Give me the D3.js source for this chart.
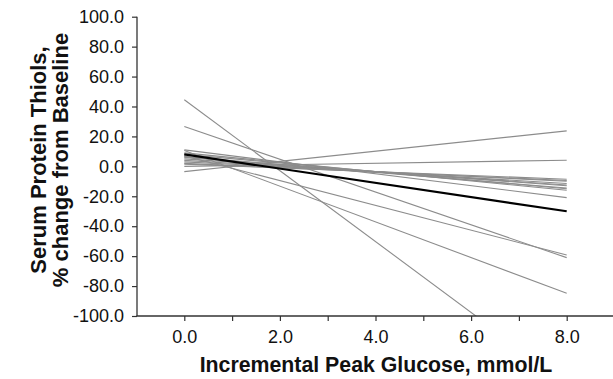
<!DOCTYPE html>
<html>
<head>
<meta charset="utf-8">
<script src="https://cdn.jsdelivr.net/npm/d3@7/dist/d3.min.js"></script>
<style>
  html, body { margin: 0; padding: 0; background: #fff; }
  svg { display: block; font-family: "Liberation Sans", Arial, sans-serif; }
</style>
</head>
<body>
<svg id="chart" width="613" height="379"></svg>
<script>
// ---- data ----
const xStart = 0;
const xEnd = 8;
// individual subjects: % change at x = 0 and at x = 8
const subjectStart = [44.5, 26.6, 10.6, 7.0, -3.5, 0.0, 11.0, 9.0, 8.0, 6.5, 6.0, 5.0, 4.0, 3.0, 2.0, 1.5];
const subjectEnd   = [-145, -61.0, -84.8, -59.2, 23.7, 4.1, -20.9, -16.0, -15.0, -14.5, -13.0, -12.5, -11.5, -10.0, -9.5, -8.6];
// mean regression line
const meanStart = 8.0;
const meanEnd = -30.0;

const yTicks = [100, 80, 60, 40, 20, 0, -20, -40, -60, -80, -100];
const yTickLabels = ["100.0", "80.0", "60.0", "40.0", "20.0", "0.0", "-20.0", "-40.0", "-60.0", "-80.0", "-100.0"];
const xTicks = [0, 1, 2, 3, 4, 5, 6, 7, 8];
const xTickLabels = ["0.0", "", "2.0", "", "4.0", "", "6.0", "", "8.0"];
const xTitle = "Incremental Peak Glucose, mmol/L";
const yTitle1 = "Serum Protein Thiols,";
const yTitle2 = "% change from Baseline";

// ---- layout ----
const svg = d3.select("#chart");
const x = d3.scaleLinear().domain([-1, 9]).range([136.5, 614.5]);
const y = d3.scaleLinear().domain([-100, 100]).range([316, 16.7]);

svg.append("defs").append("clipPath").attr("id", "plotclip")
  .append("rect")
  .attr("x", x(-1)).attr("y", y(100))
  .attr("width", x(9) - x(-1)).attr("height", y(-100) - y(100));

const line = d3.line().x(d => x(d[0])).y(d => y(d[1]));
const g = svg.append("g").attr("clip-path", "url(#plotclip)");

subjectStart.forEach((s, i) => {
  g.append("path")
    .attr("d", line([[xStart, s], [xEnd, subjectEnd[i]]]))
    .attr("fill", "none")
    .attr("stroke", "#8c8c8c")
    .attr("stroke-width", 1.1);
});
g.append("path")
  .attr("d", line([[xStart, meanStart], [xEnd, meanEnd]]))
  .attr("fill", "none")
  .attr("stroke", "#000")
  .attr("stroke-width", 2.2);

// ---- axes ----
const tickFont = 18;
const yAxis = d3.axisLeft(y).tickValues(yTicks)
  .tickFormat((d, i) => yTickLabels[i]).tickSize(5).tickPadding(8);
const ya = svg.append("g").attr("transform", `translate(${x(-1) + 0.5},0)`).call(yAxis);
ya.select(".domain").attr("stroke", "#333").attr("stroke-width", 1.3).attr("d", `M0,${y(100)}V${y(-100)}`);
ya.selectAll(".tick line").attr("stroke", "#333").attr("stroke-width", 1.2);
ya.selectAll(".tick text").attr("font-size", tickFont).attr("fill", "#111")
  .attr("font-family", "'Liberation Sans', Arial, sans-serif");

const xAxis = d3.axisBottom(x).tickValues(xTicks)
  .tickFormat((d, i) => xTickLabels[i]).tickSize(5).tickPadding(9);
const xa = svg.append("g").attr("transform", `translate(0,${y(-100)})`).call(xAxis);
xa.select(".domain").attr("stroke", "#333").attr("stroke-width", 1.3).attr("d", `M${x(-1)},0H${x(9)}`);
xa.selectAll(".tick line").attr("stroke", "#333").attr("stroke-width", 1.2);
xa.selectAll(".tick text").attr("font-size", tickFont).attr("fill", "#111")
  .attr("font-family", "'Liberation Sans', Arial, sans-serif");

// ---- titles ----
svg.append("text")
  .attr("x", 376).attr("y", 372)
  .attr("text-anchor", "middle")
  .attr("font-size", 21.3).attr("font-weight", "bold").attr("fill", "#111")
  .text(xTitle);

const yt = svg.append("text")
  .attr("transform", "translate(0,160) rotate(-90)")
  .attr("text-anchor", "middle")
  .attr("font-size", 22).attr("font-weight", "bold").attr("fill", "#111");
yt.append("tspan").attr("x", 0).attr("y", 46).text(yTitle1);
yt.append("tspan").attr("x", 0).attr("y", 68).text(yTitle2);
</script>
</body>
</html>
